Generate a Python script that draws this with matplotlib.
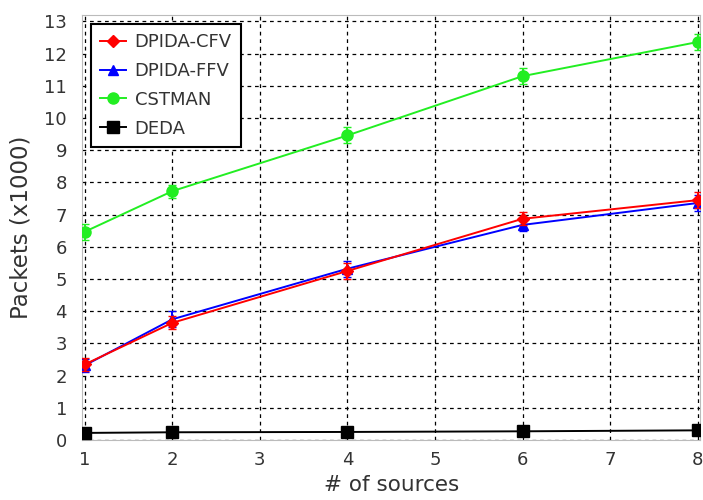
import numpy as np
import matplotlib.pyplot as plt

sources = [1, 2, 4, 6, 8]
cfv = [2.35, 3.64, 5.25, 6.87, 7.45]
cfv_err = [0.2, 0.2, 0.25, 0.2, 0.25]
ffv = [2.32, 3.75, 5.32, 6.68, 7.36]
ffv_err = [0.2, 0.25, 0.25, 0.2, 0.25]
cstman = [6.47, 7.73, 9.46, 11.3, 12.36]
cstman_err = [0.25, 0.2, 0.25, 0.25, 0.25]
deda = [0.22, 0.24, 0.25, 0.27, 0.3]
deda_err = [0.03, 0.03, 0.03, 0.03, 0.03]

fig = plt.figure(figsize=(7.03, 5.0), dpi=100)
ax = fig.add_axes([0.117, 0.12, 0.879, 0.85])

series = [
    (cfv, cfv_err, 'red', 'D', 6, 'DPIDA-CFV', 4),
    (ffv, ffv_err, 'blue', '^', 7, 'DPIDA-FFV', 3),
    (cstman, cstman_err, '#22ee22', 'o', 8, 'CSTMAN', 3),
    (deda, deda_err, 'black', 's', 8, 'DEDA', 3),
]
handles = []
for vals, err, col, mk, ms, name, z in series:
    c = ax.errorbar(sources, vals, yerr=err, color=col, marker=mk, markersize=ms,
                    linewidth=1.4, capsize=3, label=name, zorder=z)
    handles.append(c.lines[0])

ax.set_xlim(0.97, 8.03)
ax.set_ylim(0, 13.2)
ax.set_xticks(range(1, 9))
ax.set_yticks(range(0, 14))
ax.grid(True, color='black', linestyle=(0, (3, 3)), linewidth=0.9)
ax.tick_params(labelsize=13, length=0, pad=8, colors='#333333')
ax.tick_params(axis='y', pad=11)
for s in ax.spines.values():
    s.set_color('#bbbbbb')

ax.set_xlabel('# of sources', fontsize=15.5, color='#333333', labelpad=4)
ax.set_ylabel('Packets (x1000)', fontsize=16.5, color='#333333', labelpad=8)

leg = ax.legend(handles, [s[5] for s in series], loc='upper left', fontsize=13,
                fancybox=False, framealpha=1, edgecolor='black', handlelength=1.4,
                handletextpad=0.5, borderpad=0.5, labelspacing=0.6)
leg.get_frame().set_linewidth(1.5)
for t in leg.get_texts():
    t.set_color('#333333')

fig.savefig('out.png', dpi=100)
